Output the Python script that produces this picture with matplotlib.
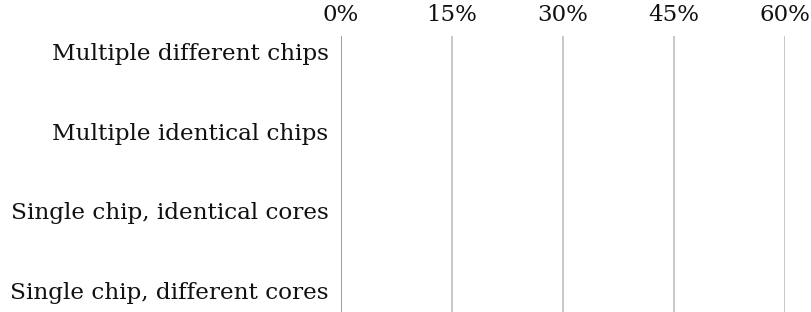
import matplotlib.pyplot as plt
import numpy as np

categories = ["Multiple different chips", "Multiple identical chips",
              "Single chip, identical cores", "Single chip, different cores"]
values = [0, 0, 0, 0]
xticks = [0, 0.15, 0.30, 0.45, 0.60]
xtick_labels = ["0%", "15%", "30%", "45%", "60%"]

plt.rcParams['font.family'] = ['DejaVu Serif']

fig = plt.figure(figsize=(8.12, 3.12), dpi=100)
ax = fig.add_axes([341 / 812, 0, (785 - 341) / 812, (312 - 36) / 312])

y = np.arange(len(categories))
ax.barh(y, values, height=0.6, color="#4472c4")

ax.set_xlim(0, 0.6)
ax.set_ylim(3.27, -0.2)
ax.set_yticks(y)
ax.set_yticklabels(categories, fontsize=16.7, color="#111111")
ax.set_xticks(xticks)
ax.set_xticklabels(xtick_labels, fontsize=16.5, color="#111111")
ax.xaxis.tick_top()
ax.tick_params(axis="both", length=0)
ax.tick_params(axis="x", pad=7)
ax.tick_params(axis="y", pad=9)

for s in ax.spines.values():
    s.set_visible(False)
for xv in xticks:
    ax.axvline(xv, color="#8c8c8c" if xv == 0 else "#bdbdbd", lw=1.2, zorder=0)

fig.savefig("out.png", dpi=100)
